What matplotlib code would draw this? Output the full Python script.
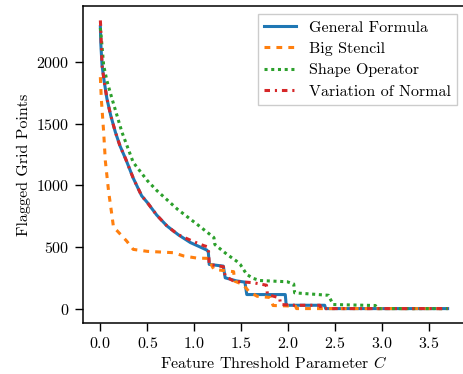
import matplotlib
matplotlib.use('Agg')
import matplotlib.pyplot as plt

# threshold values C and number of flagged grid points
c_general = [0.0, 0.005, 0.018, 0.04, 0.07, 0.11, 0.16, 0.21, 0.27, 0.35, 0.44, 0.50,
             0.60, 0.71, 0.83, 0.96, 1.05, 1.135, 1.15, 1.16, 1.31, 1.33, 1.45, 1.54,
             1.56, 1.97, 1.98, 2.39, 2.40, 3.70]
n_general = [2290, 2150, 1976, 1850, 1705, 1570, 1433, 1320, 1215, 1060, 916, 862,
             760, 671, 600, 536, 505, 475, 460, 359, 345, 250, 225, 215,
             114, 114, 27, 27, 0, 0]

c_stencil = [0.0, 0.01, 0.035, 0.053, 0.088, 0.124, 0.14, 0.18, 0.28, 0.35, 0.50, 0.78,
             0.89, 1.03, 1.15, 1.19, 1.21, 1.42, 1.43, 1.52, 1.58, 1.67, 1.81, 1.84,
             2.08, 2.09, 3.70]
n_stencil = [1880, 1705, 1435, 1200, 950, 753, 660, 631, 549, 481, 465, 454,
             427, 410, 408, 345, 318, 300, 223, 196, 141, 100, 90, 25,
             20, 0, 0]

c_shape = [0.0, 0.01, 0.035, 0.07, 0.124, 0.23, 0.35, 0.50, 0.60, 0.82, 1.03, 1.21,
           1.22, 1.35, 1.45, 1.49, 1.56, 1.63, 1.70, 1.99, 2.06, 2.07, 2.43, 2.48,
           2.93, 2.95, 3.70]
n_shape = [2280, 2200, 1976, 1850, 1705, 1433, 1188, 1040, 960, 808, 685, 577,
           520, 440, 386, 359, 277, 245, 228, 218, 200, 128, 108, 33,
           25, 0, 0]

c_normal = [0.0, 0.004, 0.018, 0.04, 0.07, 0.11, 0.16, 0.21, 0.27, 0.35, 0.44, 0.50,
            0.60, 0.71, 0.83, 0.99, 1.10, 1.15, 1.16, 1.31, 1.33, 1.42, 1.63, 1.77,
            1.78, 1.91, 1.92, 2.07, 2.34, 2.35, 3.70]
n_normal = [2341, 2280, 1976, 1850, 1705, 1570, 1433, 1320, 1215, 1060, 916, 862,
            760, 671, 600, 545, 512, 500, 359, 340, 264, 223, 210, 190,
            114, 87, 33, 27, 27, 0, 0]

plt.rcParams.update({
    'font.family': 'serif',
    'font.serif': ['cmr10'],
    'mathtext.fontset': 'cm',
    'axes.formatter.use_mathtext': True,
    'font.size': 11.5,
    'axes.linewidth': 1.1,
    'xtick.major.size': 6,
    'ytick.major.size': 6,
    'xtick.major.width': 1.0,
    'ytick.major.width': 1.0,
})

fig = plt.figure(figsize=(4.64, 3.74), dpi=100)
ax = fig.add_axes([83 / 464, 51 / 374, 382 / 464, 317 / 374])

lw = 2.2
ax.plot(c_general, n_general, color='#1f77b4', lw=lw, ls='-', label='General Formula')
ax.plot(c_stencil, n_stencil, color='#ff7f0e', lw=lw, ls='--', dashes=(1.9, 2.0),
        label='Big Stencil')
ax.plot(c_shape, n_shape, color='#2ca02c', lw=lw, ls=':', dashes=(1.0, 1.2),
        label='Shape Operator')
ax.plot(c_normal, n_normal, color='#d62728', lw=lw, ls='-.', dashes=(1.8, 1.6, 0.7, 1.6),
        label='Variation of Normal')

ax.set_xticks([0.0, 0.5, 1.0, 1.5, 2.0, 2.5, 3.0, 3.5])
ax.set_yticks([0, 500, 1000, 1500, 2000])
ax.set_xlabel('Feature Threshold Parameter $C$', labelpad=3)
ax.set_ylabel('Flagged Grid Points')

leg = ax.legend(loc='upper right', fancybox=False, framealpha=1.0, edgecolor='#cccccc',
                labelspacing=0.45)

fig.savefig('out.png', dpi=100)
